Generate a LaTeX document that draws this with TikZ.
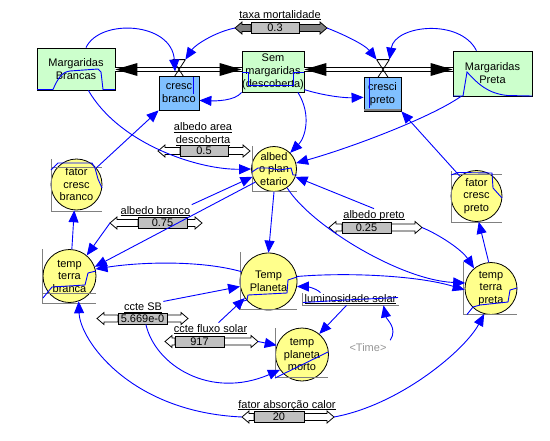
\documentclass[tikz,border=0pt]{standalone}
\usepackage{fontspec}
\setmainfont{Liberation Sans}
\usetikzlibrary{arrows.meta,positioning,calc}

\definecolor{stockgreen}{RGB}{204,255,204}
\definecolor{rateblue}{RGB}{128,192,255}
\definecolor{auxyellow}{RGB}{255,255,140}
\definecolor{boxgray}{RGB}{192,192,192}
\definecolor{framegray}{RGB}{128,128,128}
\definecolor{timegray}{RGB}{150,150,150}

% underlined variable name, depth ignored
\newcommand{\undl}[1]{\underline{\raisebox{0pt}[\height][0pt]{#1}}}
% slider: [fill] name, y, left tip, box left, box right, right tip, value
\newcommand{\slbar}[8][white]{%
  \draw[fill=#1] (#4,#3) -- (#4+7,#3-6) -- (#4+7,#3-3.5) -- (#5,#3-3.5)
    -- (#5,#3+3.5) -- (#4+7,#3+3.5) -- (#4+7,#3+6) -- cycle;
  \draw[fill=#1] (#7,#3) -- (#7-7,#3-6) -- (#7-7,#3-3.5) -- (#6,#3-3.5)
    -- (#6,#3+3.5) -- (#7-7,#3+3.5) -- (#7-7,#3+6) -- cycle;
  \node[valbox, minimum width={(#6-#5)*1pt}] (#2) at ({(#5+#6)/2},#3) {#8};
  \coordinate (#2-l) at (#4,#3);
  \coordinate (#2-r) at (#7,#3);
}

\begin{document}
\begin{tikzpicture}[x=1pt, y=-1pt, line width=0.8pt,
  font=\fontsize{11}{13}\selectfont,
  stock/.style={draw, fill=stockgreen, align=center, inner sep=0pt},
  rate/.style={draw, fill=rateblue, align=center, inner sep=0pt, minimum height=34pt},
  aux/.style={circle, draw, fill=auxyellow, align=center, inner sep=-8pt,
    font=\fontsize{11}{12.5}\selectfont},
  vlv/.style={minimum width=12pt, minimum height=19pt, inner sep=0pt},
  valbox/.style={draw, fill=boxgray, minimum height=11pt, inner sep=0pt},
  lbl/.style={anchor=base, inner sep=1pt},
  pipe/.style={double=white, double distance=3.5pt, line width=1pt},
  lnk/.style={blue, line width=0.9pt, -{Triangle[length=12pt, width=10pt]}},
  frm/.style={framegray, line width=0.9pt},
  trc/.style={blue, line width=0.9pt}]
  \useasboundingbox[fill=white] (0,0) rectangle (550,440);

  % stocks and flows
  \node[stock, minimum width=78pt, minimum height=42pt] (mb) at (76,69) {Margaridas\\Brancas};
  \node[stock, minimum width=62pt, minimum height=41pt] (sm) at (273,71.5) {Sem\\margaridas\\(descoberta)};
  \node[stock, minimum width=79pt, minimum height=45pt] (mp) at (492.5,73.5) {Margaridas\\Preta};
  \node[vlv] (v1) at (179,69.5) {};
  \node[vlv] (v2) at (383,69.5) {};
  \draw[pipe] (mb.east |- v1) -- (sm.west |- v1);
  \draw[pipe] (sm.east |- v2) -- (mp.west |- v2);
  \fill (mb.east |- v1) -- ++(22,-6.5) -- ++(0,13) -- cycle;
  \fill (sm.west |- v1) -- ++(-22,-6.5) -- ++(0,13) -- cycle;
  \fill (sm.east |- v2) -- ++(22,-6.5) -- ++(0,13) -- cycle;
  \fill (mp.west |- v2) -- ++(-22,-6.5) -- ++(0,13) -- cycle;
  \draw (v1.north west) -- (v1.south east) (v1.north east) -- (v1.south west) (v1.north west) -- (v1.north east);
  \draw (v2.north west) -- (v2.south east) (v2.north east) -- (v2.south west) (v2.north west) -- (v2.north east);
  \node[rate, minimum width=40pt] (cb) at (179,93) {cresc\\branco};
  \node[rate, minimum width=37pt] (cp) at (382.5,94) {cresci\\preto};
  \draw[framegray, line width=2pt] ([yshift=1.5pt]cp.south west) -- ([yshift=1.5pt]cp.south east);

  % auxiliaries
  \node[aux, minimum size=45pt] (ap) at (274,169) {albed\\o plan\\etario};
  \node[aux, minimum size=51pt] (fcb) at (76.5,184.5) {fator\\cresc\\branco};
  \node[aux, minimum size=51pt] (fcp) at (476.5,196) {fator\\cresc\\preto};
  \node[aux, minimum size=53pt] (ttb) at (69.5,276) {temp\\terra\\branca};
  \node[aux, minimum size=52pt] (ttp) at (491,288.5) {temp\\terra\\preta};
  \node[aux, minimum size=57pt] (tp) at (268.5,281.5) {Temp\\Planeta};
  \node[aux, minimum size=53pt] (tpm) at (302,354.5) {temp\\planeta\\morto};

  % constants
  \node[lbl] (tm) at (280,18) {\undl{taxa mortalidade}};
  \node[lbl, anchor=center, align=center] (aad) at (203,134.3) {\undl{albedo area}\\\undl{descoberta}};
  \node[lbl] (abr) at (155.5,214) {\undl{albedo branco}};
  \node[lbl] (apr) at (374,218) {\undl{albedo preto}};
  \node[lbl] (csb) at (143,310.5) {\undl{ccte SB}};
  \node[lbl] (cfs) at (210.5,332) {\undl{ccte fluxo solar}};
  \node[lbl] (fac) at (287,408) {\undl{fator absorção calor}};
  \node[lbl] (ls) at (350.5,302) {\undl{luminosidade solar}};
  \node[text=timegray] (tim) at (368,348) {<Time>};
  \slbar[framegray]{tmv}{28}{235}{251}{299}{327}{0.3}
  \slbar{aadv}{151}{158}{180}{228}{250}{0.5}
  \slbar{abrv}{223}{110}{138}{187}{202}{0.75}
  \slbar{aprv}{227.5}{329}{342}{391}{422}{0.25}
  \slbar{csbv}{318.5}{97}{118}{167}{188}{5.669e-0}
  \slbar{cfsv}{341.5}{165}{175}{224}{258}{917}
  \slbar{facv}{417}{242}{254}{304}{334}{20}

  % graph frames and traces
  \draw[trc, shift={(mb.center)}] (-39,20.5) -- (-23,20.5) .. controls (-18,9) and (-14,3) .. (-6,2) -- (22,0) -- (25,3) -- (27,20.5) -- (39,20.5);
  \draw[trc, shift={(sm.center)}] (-31,0.5) -- (-25,0.5) -- (-25,13.5) -- (20,13.5) -- (20,0.5) -- (31,0.5);
  \draw[trc, shift={(mp.center)}] (-39.5,22.5) -- (-29.5,22.5) -- (-25.5,-1.5) .. controls (-15,10) and (-5,20) .. (15,22) -- (39.5,22.5);
  \draw[trc, shift={(cb.center)}] (14,-16) -- (14,1);
  \draw[trc, shift={(cp.center)}] (-13,-16) -- (-13,14);
  \draw[frm, shift={(ap.center)}] (-22,-23) |- (23,22);
  \draw[trc, shift={(ap.center)}] (-22,3) -- (-16,-1) -- (-6,-1) -- (6,1) -- (17,-1) -- (19,6) -- (23,6);
  \draw[frm, shift={(fcb.center)}] (-25.5,-25.5) |- (25.5,26.5) (-25.5,-17.5) -- (25.5,-17.5);
  \draw[trc, shift={(fcb.center)}] (-25.5,-14.5) -- (-18.5,-21.5) -- (15.5,-21.5) -- (18.5,-16.5) -- (21.5,-5.5) -- (25.5,3.5);
  \draw[frm, shift={(fcp.center)}] (-25.5,-25) |- (25.5,26) (-25.5,-22) -- (25.5,-22);
  \draw[trc, shift={(fcp.center)}] (-25.5,-21) -- (-18.5,-23.5) -- (15.5,-23) -- (16.5,-8) -- (25.5,2);
  \draw[frm, shift={(ttb.center)}] (-27.5,-27) |- (26.5,27) (-27.5,17) -- (26.5,17);
  \draw[trc, shift={(ttb.center)}] (-26.5,22) -- (-17.5,11) -- (15.5,9) -- (18.5,-3) -- (26.5,-5);
  \draw[frm, shift={(ttp.center)}] (-28,-26.5) |- (26,25.5);
  \draw[trc, shift={(ttp.center)}] (-24,26) -- (-18,18.5) -- (-11,16.5) -- (17,13.5) -- (19,1.5) -- (26,-0.5);
  \draw[frm, shift={(tp.center)}] (-28.5,-29.5) |- (28.5,27.5);
  \draw[trc, shift={(tp.center)}] (-28.5,20.5) -- (-21.5,18.5) -- (-20.5,13.5) -- (18.5,11.5) -- (19.5,-1.5) -- (28.5,-4.5);
  \draw[frm, shift={(tpm.center)}] (-27,-26.5) |- (26,22.5);
  \draw[trc, shift={(tpm.center)}] (-27,23.5) -- (26,-2.5);
  \draw[frm, shift={(ls.base)}] (-48.5,-9) |- (48.5,3);
  \draw[trc, shift={(ls.base)}] (-47.5,0.5) -- (-5.5,-2) -- (47.5,-4.5);

  % links
  \draw[lnk] (mb.65) .. controls (100,18) and (172,22) .. ($(v1)+(-4,2)$);
  \draw[lnk] (tmv-l) .. controls (215,32) and (195,45) .. (v1.north east);
  \draw[lnk] (tmv-r) .. controls (345,35) and (365,45) .. (v2.north west);
  \draw[lnk] (mp.125) .. controls (460,18) and (395,25) .. (v2.north east);
  \draw[lnk] (sm.south west) .. controls (235,101) and (215,101) .. (cb.-20);
  \draw[lnk] (sm.-30) .. controls (325,96) and (345,98) .. (cp.-170);
  \draw[lnk] (fcb.40) -- (cb.south west);
  \draw[lnk] (fcp.130) -- (cp.south east);
  \draw[lnk] (mb.-60) .. controls (120,145) and (200,170) .. (ap.west);
  \draw[lnk] (abr.north east) -- (ap.200);
  \draw[lnk] (apr.north) -- (ap.-20);
  \draw[lnk] (sm.-40) .. controls (312,115) and (305,138) .. (ap.45);
  \draw[lnk] (mp.-144) .. controls (430,118) and (350,148) .. (ap.15);
  \draw[lnk] (ap.south) -- (tp.north);
  \draw[lnk] (ap.215) -- (ttb.20);
  \draw[lnk] (tp.160) .. controls (200,260) and (140,262) .. (ttb.15);
  \draw[lnk] (abrv-l) -- (ttb.50);
  \draw[lnk] (ap.-55) .. controls (310,225) and (400,280) .. (ttp.168);
  \draw[lnk] (tp.10) .. controls (350,272) and (420,276) .. (ttp.183);
  \draw[lnk] (aprv-r) .. controls (440,235) and (462,250) .. (ttp.130);
  \draw[lnk] (ttp.95) -- (fcp.-85);
  \draw[lnk] (ttb.85) -- (fcb.-95);
  \draw[lnk] (csb.north east) -- (tp.190);
  \draw[lnk] ($(cfs.north)+(8,0)$) -- (tp.215);
  \draw[lnk] (cfsv-r) -- (tpm.160);
  \draw[lnk] (csbv.-60) .. controls (155,365) and (210,400) .. (tpm.-145);
  \draw[lnk] ($(ls.north)+(-30,0)$) .. controls +(-5,-5) and +(8,0) .. (tp.-10);
  \draw[lnk] ($(ls.south)+(-4,0)$) -- (tpm.50);
  \draw[lnk] (tim.north east) .. controls +(8,-12) and +(3,14) .. ($(ls.south)+(33,0)$);
  \draw[lnk] (facv-l) .. controls (130,412) and (80,340) .. (ttb.-70);
  \draw[lnk] (facv-r) .. controls (400,405) and (465,350) .. (ttp.-105);
\end{tikzpicture}
\end{document}
